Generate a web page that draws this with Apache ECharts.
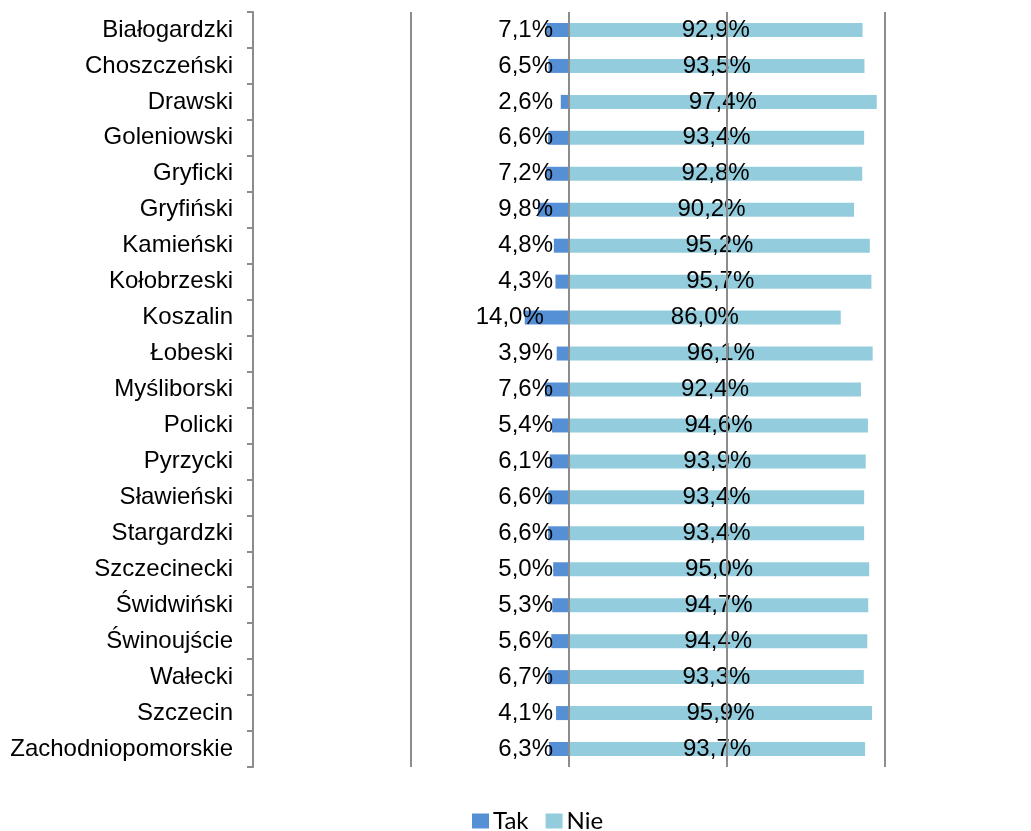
<!DOCTYPE html>
<html>
<head>
<meta charset="utf-8">
<script src="https://cdn.jsdelivr.net/npm/echarts@6/dist/echarts.min.js"></script>
<style>
html,body{margin:0;padding:0;background:#fff;}
#chart{width:1031px;height:831px;}
</style>
</head>
<body>
<div id="chart"></div>
<script>
var categories = ["Białogardzki","Choszczeński","Drawski","Goleniowski","Gryficki","Gryfiński","Kamieński","Kołobrzeski","Koszalin","Łobeski","Myśliborski","Policki","Pyrzycki","Sławieński","Stargardzki","Szczecinecki","Świdwiński","Świnoujście","Wałecki","Szczecin","Zachodniopomorskie"];
var takValues = [7.1,6.5,2.6,6.6,7.2,9.8,4.8,4.3,14.0,3.9,7.6,5.4,6.1,6.6,6.6,5.0,5.3,5.6,6.7,4.1,6.3];
var nieValues = [92.9,93.5,97.4,93.4,92.8,90.2,95.2,95.7,86.0,96.1,92.4,94.6,93.9,93.4,93.4,95.0,94.7,94.4,93.3,95.9,93.7];

function fmt(v){ return Math.abs(v).toFixed(1).replace('.', ',') + '%'; }

var chart = echarts.init(document.getElementById('chart'), null, {renderer:'canvas'});
var FONT = '"Liberation Sans", Arial, sans-serif';
var FS = 24;
chart.setOption({
  animation: false,
  backgroundColor: '#ffffff',
  grid: {left: 253, right: 146, top: 12, bottom: 64, containLabel: false},
  xAxis: {
    type: 'value', min: -100, max: 100, interval: 50, z: 3,
    axisLine: {show: false}, axisTick: {show: false}, axisLabel: {show: false},
    splitLine: {show: true, lineStyle: {color: '#8c8c8c', width: 2}}
  },
  yAxis: {
    type: 'category', data: categories, inverse: true,
    axisLine: {show: true, onZero: false, lineStyle: {color: '#8c8c8c', width: 2}},
    axisTick: {show: true, inside: false, length: 6, lineStyle: {color: '#8c8c8c', width: 2}},
    axisLabel: {color: '#000', fontSize: FS, fontFamily: FONT, margin: 20, padding: [3, 0, 0, 0]}
  },
  legend: {
    data: ['Tak', 'Nie'], left: 467, top: 804, itemWidth: 17, itemHeight: 15, itemGap: 17,
    icon: 'rect',
    textStyle: {color: '#000', fontSize: 24, fontFamily: 'Lato, "Open Sans", sans-serif', padding: [0,0,0,-1]}
  },
  series: [
    {
      name: 'Tak', type: 'bar', stack: 'total', barWidth: 14,
      data: takValues.map(function(v){ return -v; }),
      itemStyle: {color: '#5590d6'},
      label: {show: true, position: 'left', color: '#000', fontSize: FS, fontFamily: FONT, padding: [3, 0, 0, 0],
        formatter: function(p){ return fmt(p.value); }},
      labelLayout: function(p){
        var r = p.rect;
        var left = Math.min(r.x, r.x + r.width);
        var right = Math.max(r.x, r.x + r.width);
        return {x: Math.min(right - 16, left + 19), y: r.y + r.height / 2, align: 'right', verticalAlign: 'middle'};
      }
    },
    {
      name: 'Nie', type: 'bar', stack: 'total', barWidth: 14,
      data: nieValues,
      itemStyle: {color: '#93cddd'},
      label: {show: true, position: 'inside', color: '#000', fontSize: FS, fontFamily: FONT, padding: [3, 0, 0, 0],
        formatter: function(p){ return fmt(p.value); }}
    }
  ]
});
</script>
</body>
</html>
